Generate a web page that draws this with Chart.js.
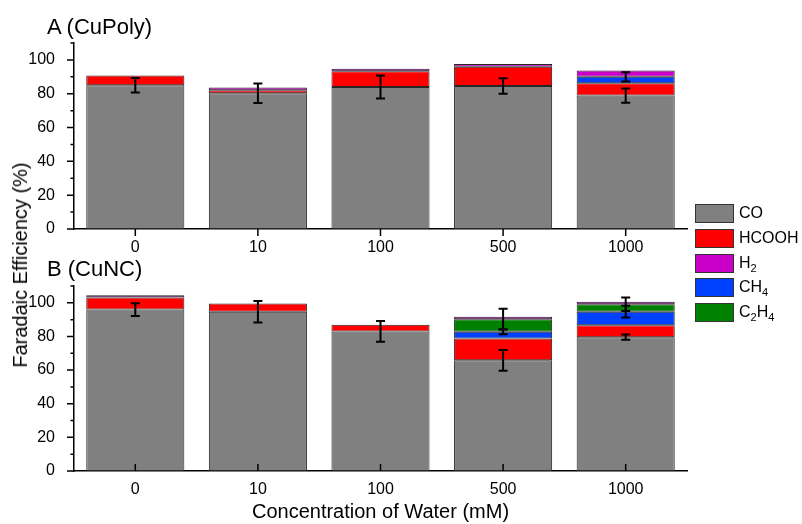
<!DOCTYPE html>
<html><head><meta charset="utf-8">
<script src="https://cdn.jsdelivr.net/npm/chart.js@4.4.1/dist/chart.umd.min.js"></script>
<style>
html,body{margin:0;padding:0;background:#fff;}
body{width:802px;height:524px;position:relative;overflow:hidden;font-family:"Liberation Sans",Arial,sans-serif;color:#000;}
canvas{position:absolute;left:0;}
#wrap1{position:absolute;left:0;top:0;width:802px;height:260px;}
#wrap2{position:absolute;left:0;top:260px;width:802px;height:264px;}
.ptitle{position:absolute;font-size:22px;line-height:22px;white-space:nowrap;}
#ytitle{position:absolute;left:20px;top:265px;font-size:20px;line-height:20px;white-space:nowrap;transform:translate(-50%,-50%) rotate(-90deg);}
#legend{position:absolute;left:695px;top:0;}
.li{position:absolute;left:0;width:110px;height:18px;}
.sw{position:absolute;left:0;top:0;width:37px;height:17px;border:1px solid #333;}
.lt{position:absolute;left:44px;top:0;font-size:16px;line-height:18px;white-space:nowrap;}
.lt sub{font-size:11px;vertical-align:-4px;line-height:0;}
</style></head>
<body>
<div id="wrap1"><canvas id="c1" width="802" height="260"></canvas></div>
<div id="wrap2"><canvas id="c2" width="802" height="264"></canvas></div>
<div class="ptitle" style="left:47px;top:16px;">A (CuPoly)</div>
<div class="ptitle" style="left:47px;top:258px;">B (CuNC)</div>
<div id="ytitle">Faradaic Efficiency (%)</div>
<div id="legend"></div>
<script>
// ---- data ----
const categories = ['0', '10', '100', '500', '1000'];
const seriesNames = ['CO', 'HCOOH', 'CH4', 'C2H4', 'H2'];
// Panel A (CuPoly)
const polyCO    = [85.0, 80.3, 84.0, 84.6, 78.9];
const polyHCOOH = [5.8, 1.7, 9.3, 11.4, 7.3];
const polyCH4   = [0, 0, 0, 0, 3.8];
const polyC2H4  = [0, 0, 0, 0, 0];
const polyH2    = [0, 1.7, 1.5, 1.6, 3.7];
const polyErrCO  = [4.3, 5.8, 6.8, 4.6, 4.2];
const polyErrCH4 = [null, null, null, null, 2.7];
const polyErrC2H4 = [null, null, null, null, null];
// Panel B (CuNC)
const ncCO    = [96.0, 94.7, 83.0, 65.8, 79.6];
const ncHCOOH = [7.1, 4.9, 4.0, 13.0, 7.1];
const ncCH4   = [0, 0, 0, 4.0, 8.0];
const ncC2H4  = [0, 0, 0, 7.5, 4.5];
const ncH2    = [1.4, 0, 0, 1.4, 1.4];
const ncErrCO   = [3.8, 6.4, 6.2, 6.2, 1.5];
const ncErrCH4  = [null, null, null, 1.5, 3.5];
const ncErrC2H4 = [null, null, null, 6.1, 4.0];
const yTickValues = [0, 20, 40, 60, 80, 100];
const yMinorValues = [10, 30, 50, 70, 90, 110];

const colors = { CO: '#808080', HCOOH: '#ff0000', CH4: '#0040ff', C2H4: '#008000', H2: '#c800c8' };
const legendOrder = [['CO', 'CO'], ['HCOOH', 'HCOOH'], ['H2', 'H<sub>2</sub>'], ['CH4', 'CH<sub>4</sub>'], ['C2H4', 'C<sub>2</sub>H<sub>4</sub>']];
const FONT = '"Liberation Sans", Arial, sans-serif';

// legend
const lg = document.getElementById('legend');
legendOrder.forEach(([k, html], i) => {
  const d = document.createElement('div');
  d.className = 'li';
  d.style.top = (204 + i * 24.8) + 'px';
  d.innerHTML = '<div class="sw" style="background:' + colors[k] + '"></div><div class="lt">' + html + '</div>';
  lg.appendChild(d);
});

function cum(arrs, upto, i) {
  let s = 0;
  for (let k = 0; k <= upto; k++) s += (arrs[k][i] || 0);
  return s;
}

function makeChart(id, arrs, errs, opt) {
  const datasets = seriesNames.map((n, k) => ({
    label: n,
    data: arrs[k].map(v => v === 0 ? null : v),
    backgroundColor: colors[n],
    borderColor: '#262626',
    borderWidth: 1,
    borderSkipped: false,
    barPercentage: 0.8,
    categoryPercentage: 1.0
  }));
  const axisPlugin = {
    id: 'axisExtras',
    afterDatasetsDraw(chart) {
      const ctx = chart.ctx, xs = chart.scales.x, ys = chart.scales.y;
      ctx.save();
      ctx.strokeStyle = '#000';
      ctx.lineWidth = 2;
      // error bars
      errs.forEach(e => {
        e.vals.forEach((v, i) => {
          if (v == null) return;
          const c = cum(arrs, e.level, i);
          const x = xs.getPixelForValue(i);
          const y1 = ys.getPixelForValue(c + v), y2 = ys.getPixelForValue(c - v);
          ctx.beginPath();
          ctx.moveTo(x, y1); ctx.lineTo(x, y2);
          ctx.moveTo(x - 4.5, y1); ctx.lineTo(x + 4.5, y1);
          ctx.moveTo(x - 4.5, y2); ctx.lineTo(x + 4.5, y2);
          ctx.stroke();
        });
      });
      // ticks
      ctx.lineWidth = 1.5;
      const L = chart.chartArea.left, B = chart.chartArea.bottom;
      ctx.beginPath();
      yTickValues.forEach(v => { const y = ys.getPixelForValue(v); ctx.moveTo(L - 7, y); ctx.lineTo(L, y); });
      yMinorValues.forEach(v => { const y = ys.getPixelForValue(v); ctx.moveTo(L - 3.5, y); ctx.lineTo(L, y); });
      categories.forEach((c, i) => {
        const x = xs.getPixelForTick(i);
        if (opt.xTickIn) { ctx.moveTo(x, B - 7); ctx.lineTo(x, B); }
        else { ctx.moveTo(x, B); ctx.lineTo(x, B + 7); }
      });
      ctx.stroke();
      ctx.restore();
    }
  };
  return new Chart(document.getElementById(id), {
    type: 'bar',
    data: { labels: categories, datasets },
    plugins: [axisPlugin],
    options: {
      responsive: false,
      animation: false,
      layout: { padding: { top: opt.padTop, right: 802 - 687, left: 0, bottom: 0 } },
      plugins: { legend: { display: false }, tooltip: { enabled: false }, title: { display: false } },
      scales: {
        x: {
          stacked: true,
          grid: { display: false },
          border: { display: true, color: '#000', width: 1.5 },
          ticks: { color: '#000', font: { size: 16, family: FONT }, padding: 1, maxRotation: 0 },
          title: opt.xTitle ? { display: true, text: opt.xTitle, color: '#000', font: { size: 20, family: FONT }, padding: { top: 0, bottom: 0 } } : { display: false },
          afterFit(s) { s.height = opt.xH; }
        },
        y: {
          stacked: true, min: 0, max: 110,
          grid: { display: false },
          border: { display: true, color: '#000', width: 1.5 },
          ticks: { stepSize: 20, includeBounds: false, color: '#000', font: { size: 16, family: FONT }, padding: 11 },
          afterFit(s) { s.width = 74; }
        }
      }
    }
  });
}

makeChart('c1', [polyCO, polyHCOOH, polyCH4, polyC2H4, polyH2],
  [{ level: 0, vals: polyErrCO }, { level: 2, vals: polyErrCH4 }, { level: 3, vals: polyErrC2H4 }],
  { padTop: 43, xH: 31, xTickIn: false });
makeChart('c2', [ncCO, ncHCOOH, ncCH4, ncC2H4, ncH2],
  [{ level: 0, vals: ncErrCO }, { level: 2, vals: ncErrCH4 }, { level: 3, vals: ncErrC2H4 }],
  { padTop: 26, xH: 53, xTickIn: true, xTitle: 'Concentration of Water (mM)' });
</script>
</body></html>
